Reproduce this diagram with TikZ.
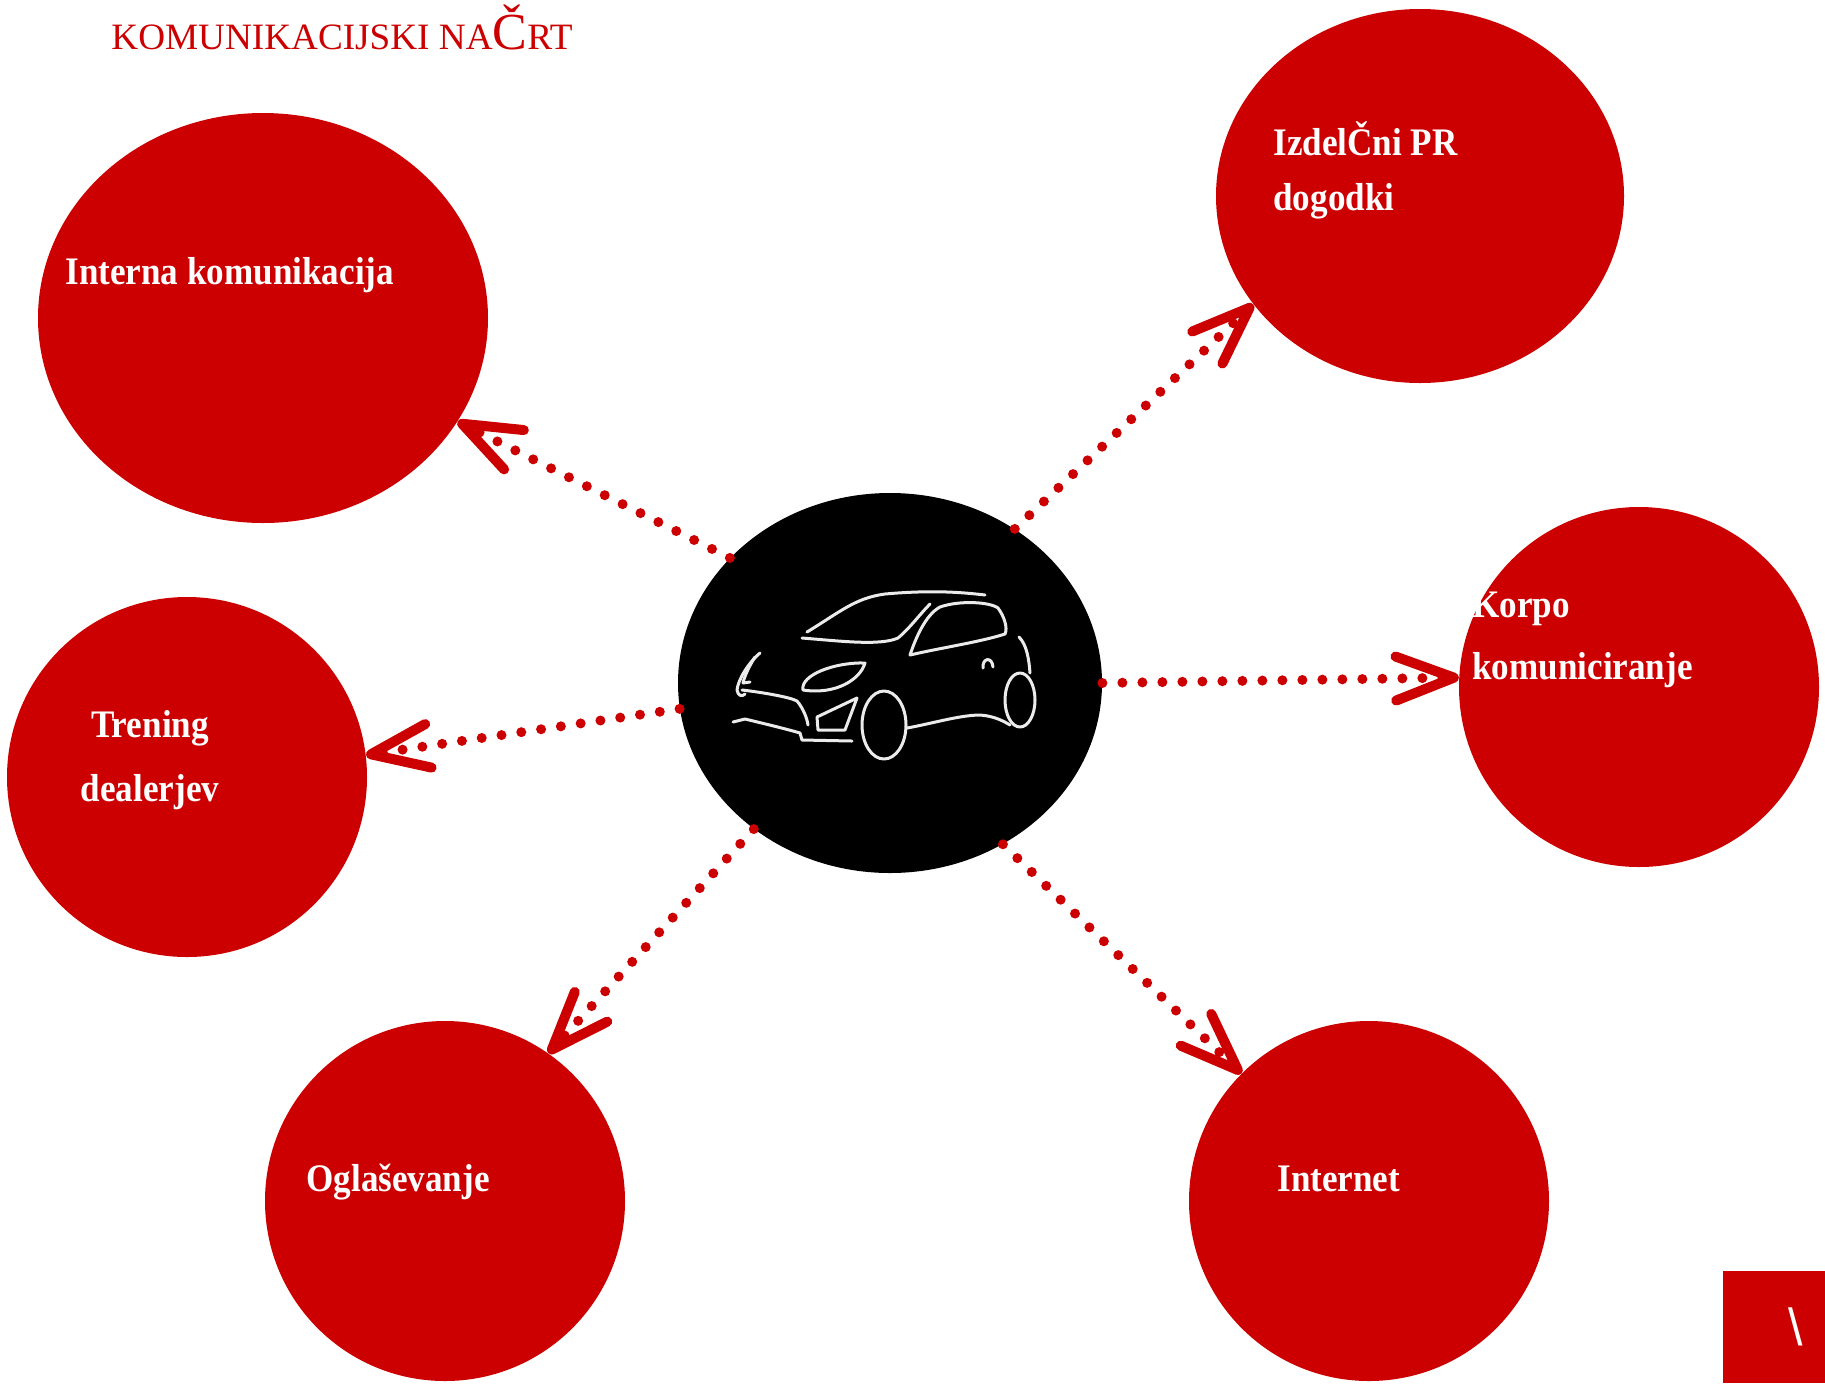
\documentclass[tikz,border=0pt]{standalone}
\usepackage{fontspec}
\setmainfont{Liberation Serif}
\newfontfamily\labfont[FakeStretch=0.9]{Liberation Serif}
\newfontfamily\symfont{Liberation Sans}
\usetikzlibrary{shapes.geometric,arrows.meta}
\definecolor{redzero}{HTML}{CC0000}
\begin{document}
\begin{tikzpicture}[x=0.5pt,y=-0.5pt,
  blob/.style={ellipse, fill=redzero, draw=none, inner sep=0pt},
  hub/.style={ellipse, fill=black, draw=none, inner sep=0pt},
  lab/.style={text=white, inner sep=0pt, font=\labfont\bfseries\fontsize{19.5pt}{27.5pt}\selectfont},
  link/.style={draw=redzero, line width=5pt, line cap=round, dash pattern=on 0pt off 10pt,
    -{Straight Barb[length=29pt, width=22pt, round]}},
  carline/.style={draw=white!92!black, line width=1.5pt, line cap=round, line join=round}
]
\useasboundingbox (0,0) rectangle (1825,1383);
\fill[white] (0,0) rectangle (1825,1383);

% title
\node[anchor=base west, inner sep=0pt, text=redzero] (title) at (111,49)
  {{\fontsize{18.6pt}{19pt}\selectfont KOMUNIKACIJSKI NA}{\fontsize{26pt}{26pt}\selectfont Č}{\fontsize{18.6pt}{19pt}\selectfont RT}};

% circles
\node[blob, minimum width=225pt, minimum height=205pt] (interna) at (263,318) {};
\node[blob, minimum width=204pt, minimum height=187pt] (izd) at (1420,196) {};
\node[blob, minimum width=180pt, minimum height=180pt] (korpo) at (1639,687) {};
\node[blob, minimum width=180pt, minimum height=180pt] (trening) at (187,777) {};
\node[blob, minimum width=180pt, minimum height=180pt] (ogl) at (445,1201) {};
\node[blob, minimum width=180pt, minimum height=180pt] (inet) at (1369,1201) {};
\node[hub, minimum width=212pt, minimum height=190pt] (car) at (890,683) {};

% corner square
\node[fill=redzero, draw=none, inner sep=0pt, minimum width=51pt, minimum height=56pt] (corner) at (1774,1327) {};
\node[text=white, inner sep=0pt, font=\symfont\fontsize{26pt}{26pt}\selectfont] (slash) at (1796,1327) {\textbackslash};

% labels
\node[lab, anchor=base west] (tinterna) at (65,284) {Interna komunikacija};
\node[lab, anchor=base west, align=left] (tizd) at (1273,210) {IzdelČni PR\\dogodki};
\node[lab, anchor=base west, align=left, font=\labfont\bfseries\fontsize{19.5pt}{31pt}\selectfont] (tkorpo) at (1472,679) {Korpo\\komuniciranje};
\node[lab, anchor=base, align=center, font=\labfont\bfseries\fontsize{19.5pt}{32pt}\selectfont] (ttrening) at (150,801) {Trening\\dealerjev};
\node[lab, anchor=base west] (togl) at (306,1191) {Oglaševanje};
\node[lab, anchor=base west] (tinet) at (1277,1191) {Internet};

% connectors
\draw[link] (car.142.7) -- (interna.-28.9);
\draw[link] (car.51.4) -- (izd.213);
\draw[link] (car.0.8) -- (korpo.177.1);
\draw[link] (car.187.3) -- (trening.7.7);
\draw[link] (car.227.8) -- (ogl.55.2);
\draw[link] (car.305.9) -- (inet.135.2);

% car sketch
\begin{scope}[carline]
\draw (807,632) .. controls (840,612) and (855,598) .. (885,594) .. controls (930,590) and (960,592) .. (985,595);
\draw (802,638) .. controls (840,641) and (880,646) .. (898,638) .. controls (910,628) and (920,614) .. (930,604);
\draw (910,655) .. controls (915,640) and (925,615) .. (940,607) .. controls (960,600) and (990,602) .. (998,608) .. controls (1004,616) and (1008,628) .. (1005,634) .. controls (980,642) and (940,648) .. (910,655) -- cycle;
\draw (803,690) .. controls (800,675) and (835,662) .. (865,663) .. controls (860,680) and (835,695) .. (803,690) -- cycle;
\draw (742,690) .. controls (760,692) and (790,697) .. (797,701) .. controls (803,708) and (807,718) .. (808,725);
\draw (760,653) .. controls (748,663) and (738,680) .. (737,690) .. controls (738,696) and (742,697) .. (745,694);
\draw (755,657) .. controls (748,668) and (744,678) .. (743,683) -- (750,682);
\draw (733,722) -- (745,719) .. controls (770,725) and (790,730) .. (800,733) -- (802,740) -- (852,741);
\draw (817,717) -- (818,730) -- (845,730) -- (857,698) -- cycle;
\draw (884,725) ellipse [x radius=22, y radius=34];
\draw (1020,700) ellipse [x radius=15, y radius=27];
\draw (907,728) .. controls (930,724) and (960,715) .. (980,715) .. controls (995,716) and (1005,722) .. (1010,725);
\draw (1019,637) .. controls (1027,645) and (1029,660) .. (1030,673);
\draw (983,668) .. controls (982,658) and (992,656) .. (993,667);
\end{scope}
\end{tikzpicture}
\end{document}
